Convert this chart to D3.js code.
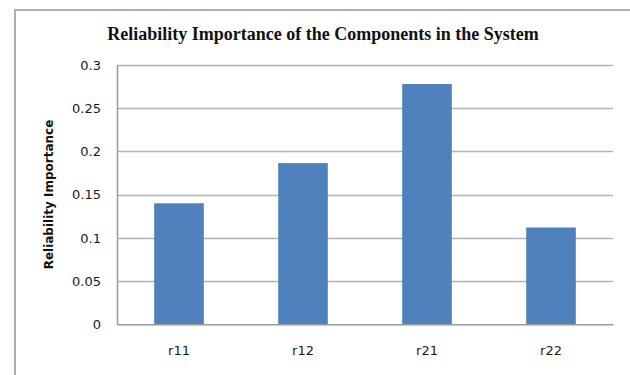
<!DOCTYPE html>
<meta charset="utf-8">
<style>
body { margin: 0; background: #fff; }
.tick text { font-family: "DejaVu Sans", Verdana, sans-serif; font-size: 13px; fill: #1a1a1a; }
</style>
<body>
<script src="https://d3js.org/d3.v7.min.js"></script>
<script>

var categories = ["r11", "r12", "r21", "r22"];
var values = [0.140, 0.1865, 0.278, 0.112];
var yTicks = [0, 0.05, 0.1, 0.15, 0.2, 0.25, 0.3];
var yTickLabels = ["0", "0.05", "0.1", "0.15", "0.2", "0.25", "0.3"];

var width = 630,
    height = 375,
    margin = {top: 65, right: 17, bottom: 51, left: 117};

var svg = d3.select("body").append("svg")
    .attr("width", width)
    .attr("height", height);

// outer chart frame (runs off the right and bottom edge)
svg.append("rect")
    .attr("x", 15)
    .attr("y", 10)
    .attr("width", 640)
    .attr("height", 400)
    .attr("fill", "#fff")
    .attr("stroke", "#adadad")
    .attr("stroke-width", 2);

var x = d3.scaleBand()
    .domain(categories)
    .range([margin.left, width - margin.right])
    .paddingInner(0.6)
    .paddingOuter(0.3);

var y = d3.scaleLinear()
    .domain([0, 0.3])
    .range([height - margin.bottom + 0.3, margin.top]);

// gridlines
svg.append("g")
    .selectAll("line")
    .data(yTicks.slice(1))
  .enter().append("line")
    .attr("x1", margin.left)
    .attr("x2", width - margin.right)
    .attr("y1", function(d) { return Math.round(y(d)) + 0.5; })
    .attr("y2", function(d) { return Math.round(y(d)) + 0.5; })
    .attr("stroke", "#b3b3b3")
    .attr("stroke-width", 1.5);

svg.append("g")
    .selectAll("rect")
    .data(values)
  .enter().append("rect")
    .attr("x", function(d, i) { return x(categories[i]); })
    .attr("y", function(d) { return y(d); })
    .attr("width", x.bandwidth())
    .attr("height", function(d) { return y(0) - y(d); })
    .attr("fill", "#4f81bd");

var yAxis = svg.append("g")
    .attr("transform", "translate(" + margin.left + ",0)")
    .call(d3.axisLeft(y).tickValues(yTicks)
      .tickFormat(function(d, i) { return yTickLabels[i]; })
      .tickSize(0).tickPadding(16));
yAxis.select(".domain").attr("stroke", "#9a9a9a").attr("stroke-width", 1.5);

var xAxis = svg.append("g")
    .attr("transform", "translate(0," + y(0) + ")")
    .call(d3.axisBottom(x).tickSize(0).tickPadding(21));
xAxis.select(".domain").attr("stroke", "#9a9a9a").attr("stroke-width", 1.5);

svg.append("text")
    .attr("x", 323)
    .attr("y", 40)
    .attr("text-anchor", "middle")
    .style("font-family", "'Liberation Serif', 'Times New Roman', serif")
    .style("font-weight", "bold")
    .style("font-size", "18px")
    .attr("fill", "#111")
    .text("Reliability Importance of the Components in the System");

svg.append("text")
    .attr("transform", "translate(53," + (margin.top + height - margin.bottom) / 2 + ") rotate(-90)")
    .attr("text-anchor", "middle")
    .style("font-family", "'DejaVu Sans', Verdana, sans-serif")
    .style("font-weight", "bold")
    .style("font-size", "12px")
    .attr("fill", "#111")
    .text("Reliability Importance");

</script>
